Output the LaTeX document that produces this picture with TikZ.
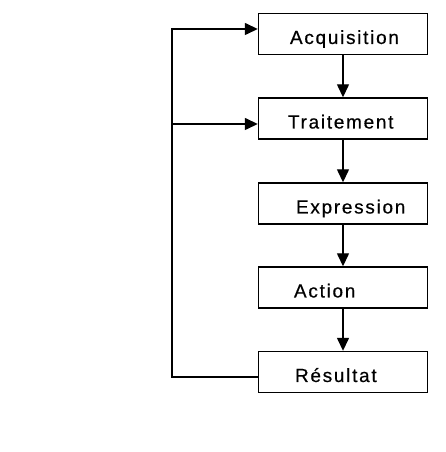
\documentclass[tikz,border=0pt]{standalone}
\usepackage{fontspec}
\setmainfont[LetterSpace=9,FakeBold=0.5]{Liberation Sans}
\usetikzlibrary{arrows.meta}
\newcommand{\boxtext}[2]{\makebox[106pt][l]{\hspace*{#1}#2}}
\begin{document}
\begin{tikzpicture}[x=1pt,y=1pt,
  box/.style={draw, line width=1.4pt, minimum width=169pt, minimum height=41pt,
    inner xsep=31pt, inner ysep=0pt, text height=21pt, text depth=1pt,
    font=\fontsize{19}{21}\selectfont},
  conn/.style={line width=1.4pt},
  arr/.style={conn, -{Triangle[length=13pt,width=12pt]}}]
\useasboundingbox (0,0) rectangle (446,452);
\node[box] (acq)   at (343,418)   {\boxtext{0pt}{Acquisition}};
\node[box] (trait) at (343,333.5) {\boxtext{-2pt}{Traitement}};
\node[box] (expr)  at (343,248.5) {\boxtext{6pt}{Expression}};
\node[box] (act)   at (343,164.5) {\boxtext{4pt}{Action}};
\node[box] (res)   at (343,80)    {\boxtext{5pt}{Résultat}};
\coordinate (ltop) at (172,423);
\coordinate (lmid) at (172,328);
\draw[arr] (acq) -- (trait);
\draw[arr] (trait) -- (expr);
\draw[arr] (expr) -- (act);
\draw[arr] (act) -- (res);
\draw[arr] ([yshift=-5pt]res.west) -| (ltop) -- (acq.west |- ltop);
\draw[arr] (lmid) -- (trait.west |- lmid);
\end{tikzpicture}
\end{document}
